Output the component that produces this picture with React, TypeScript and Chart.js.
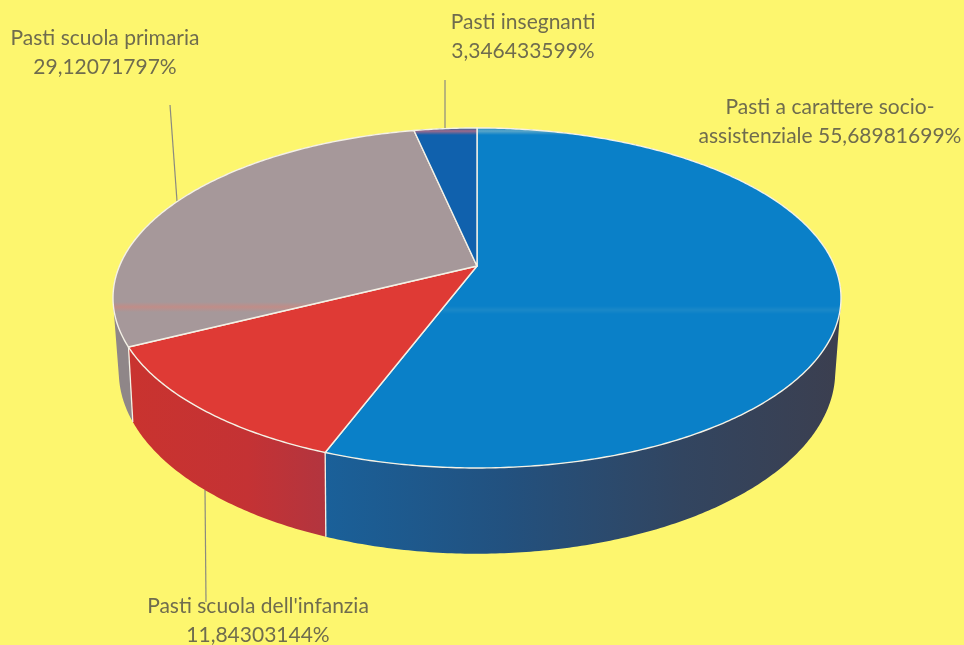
import React, { useEffect, useRef } from "react";
import { Chart, registerables } from "chart.js";

Chart.register(...registerables);

const categories = ["Pasti a carattere socio-assistenziale", "Pasti scuola dell'infanzia", "Pasti scuola primaria", "Pasti insegnanti"];
const shares = [55.68981699, 11.84303144, 29.12071797, 3.346433599];
const labelLines = [
  ["Pasti a carattere socio-", "assistenziale 55,68981699%"],
  ["Pasti scuola dell'infanzia", "11,84303144%"],
  ["Pasti scuola primaria", "29,12071797%"],
  ["Pasti insegnanti", "3,346433599%"],
];
const labelCentres = [[830, 107], [258, 606], [105, 38], [523, 22]];
const leaderLines = [null, [[205, 490], [206, 602]], [[170, 105], [177, 201]], [[445, 80], [445, 128]]];
const topColours = ["#0a80c8", "#df3a35", "#a6989a", "#1061ad"];

const W = 964;
const H = 645;
const topFace = { ax: 477, ay: 266, rx: 357.5, ry: 164, k: 0.188 };
const baseFace = { ax: 477, ay: 335, rx: 351, ry: 175, k: 0.2 };

type Face = typeof topFace;
const project = (f: Face, angle: number): [number, number] => {
  const t = angle + Math.PI / 2;
  const u = Math.sin(t);
  const v = Math.cos(t);
  const w = 1 + f.k * v;
  return [f.ax + (f.rx * u) / w, f.ay - (f.ry * v) / w];
};

const arcPoints = (f: Face, a0: number, a1: number) => {
  const n = Math.max(2, Math.ceil(Math.abs(a1 - a0) / 0.01));
  const pts: [number, number][] = [];
  for (let i = 0; i <= n; i++) pts.push(project(f, a0 + ((a1 - a0) * i) / n));
  return pts;
};

const wallFill = (ctx: CanvasRenderingContext2D, i: number) => {
  if (i === 0) {
    const g = ctx.createLinearGradient(327, 0, 835, 0);
    g.addColorStop(0, "#1a6099");
    g.addColorStop(0.35, "#22517f");
    g.addColorStop(0.7, "#324560");
    g.addColorStop(1, "#3b3f50");
    return g;
  }
  if (i === 1) {
    const g = ctx.createLinearGradient(130, 0, 327, 0);
    g.addColorStop(0, "#c9332f");
    g.addColorStop(0.6, "#c43234");
    g.addColorStop(1, "#b2353f");
    return g;
  }
  if (i === 2) return "#8f8688";
  return "#174f85";
};

const topFill = (ctx: CanvasRenderingContext2D, i: number) => {
  const g = ctx.createLinearGradient(0, 128, 0, 470);
  const stop = (y: number, c: string) => g.addColorStop((y - 128) / 342, c);
  if (i === 2) {
    stop(128, "#c4a097");
    stop(133, "#a6989a");
    stop(302, "#a6989a");
    stop(307, "#c08d88");
    stop(312, "#a6989a");
    stop(470, "#a6989a");
    return g;
  }
  if (i === 3) {
    stop(128, "#1d5c9c");
    stop(131, "#a06a8a");
    stop(135, "#1061ad");
    stop(470, "#1061ad");
    return g;
  }
  if (i === 0) {
    stop(128, "#1a86c4");
    stop(131, "#5aa6c8");
    stop(135, "#0a80c8");
    stop(306, "#0a80c8");
    stop(310, "#1a88c8");
    stop(314, "#0a80c8");
    stop(470, "#0a80c8");
    return g;
  }
  return topColours[i];
};

const tiltedPie = {
  id: "tiltedPie",
  beforeDraw(chart: any) {
    const { ctx } = chart;
    ctx.save();
    ctx.fillStyle = "#fdf66e";
    ctx.fillRect(0, 0, W, H);
    ctx.restore();
  },
  beforeDatasetDraw(chart: any, args: any) {
    const { ctx } = chart;
    const arcs = args.meta.data;
    ctx.save();
    ctx.lineJoin = "round";

    // leader lines behind the pie
    ctx.strokeStyle = "#8a8a80";
    ctx.lineWidth = 1.2;
    leaderLines.forEach((l) => {
      if (!l) return;
      ctx.beginPath();
      ctx.moveTo(l[0][0], l[0][1]);
      ctx.lineTo(l[1][0], l[1][1]);
      ctx.stroke();
    });

    // side wall: all quads of a slice in a single, consistently wound path
    [3, 2, 0, 1].forEach((i) => {
      const a = arcs[i];
      const top = arcPoints(topFace, a.startAngle, a.endAngle);
      const bot = arcPoints(baseFace, a.startAngle, a.endAngle);
      ctx.beginPath();
      for (let j = 0; j < top.length - 1; j++) {
        let quad = [top[j], top[j + 1], bot[j + 1], bot[j]];
        let area = 0;
        quad.forEach((p, n) => {
          const q = quad[(n + 1) % 4];
          area += p[0] * q[1] - q[0] * p[1];
        });
        if (area < 0) quad = quad.reverse();
        quad.forEach((p, n) => (n ? ctx.lineTo(p[0], p[1]) : ctx.moveTo(p[0], p[1])));
        ctx.closePath();
      }
      ctx.fillStyle = wallFill(ctx, i);
      ctx.fill("nonzero");
    });
    // vertical seams on the front
    ctx.strokeStyle = "#f4f1e6";
    ctx.lineWidth = 1.3;
    [0, 1].forEach((i) => {
      const a = arcs[i];
      const p = project(topFace, a.endAngle);
      const q = project(baseFace, a.endAngle);
      ctx.beginPath();
      ctx.moveTo(p[0], p[1]);
      ctx.lineTo(q[0], q[1]);
      ctx.stroke();
    });

    // top face
    arcs.forEach((a: any, i: number) => {
      const pts = arcPoints(topFace, a.startAngle, a.endAngle);
      ctx.beginPath();
      ctx.moveTo(topFace.ax, topFace.ay);
      pts.forEach((p) => ctx.lineTo(p[0], p[1]));
      ctx.closePath();
      ctx.fillStyle = topFill(ctx, i);
      ctx.fill();
      ctx.strokeStyle = "#f4f1e6";
      ctx.lineWidth = 1.4;
      ctx.stroke();
    });

    // labels
    ctx.font = '21px Lato, "Open Sans", sans-serif';
    ctx.fillStyle = "#6f6c4e";
    ctx.textAlign = "center";
    ctx.textBaseline = "middle";
    labelLines.forEach((lines, i) => {
      lines.forEach((t, j) => ctx.fillText(t, labelCentres[i][0], labelCentres[i][1] + j * 29));
    });
    ctx.restore();
    return false;
  },
};

export default function App() {
  const ref = useRef<HTMLCanvasElement>(null);
  useEffect(() => {
    document.body.style.margin = "0";
    document.body.style.background = "#fdf66e";
    const chart = new Chart(ref.current!, {
      type: "pie",
      data: { labels: categories, datasets: [{ data: shares, backgroundColor: topColours }] },
      options: {
        animation: false,
        responsive: false,
        plugins: { legend: { display: false }, tooltip: { enabled: false } },
      },
      plugins: [tiltedPie],
    } as any);
    return () => chart.destroy();
  }, []);
  return <canvas ref={ref} width={W} height={H} style={{ display: "block" }} />;
}
